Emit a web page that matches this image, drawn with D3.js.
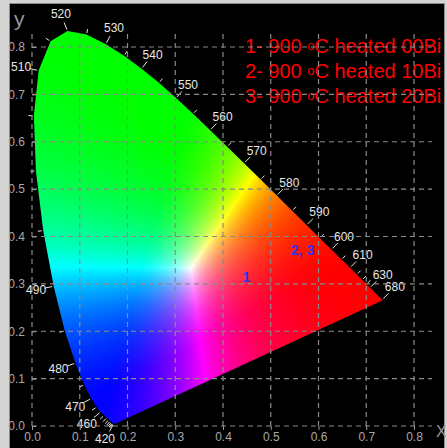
<!DOCTYPE html>
<html>
<head>
<meta charset="utf-8">
<script src="https://cdn.jsdelivr.net/npm/d3@7"></script>
<style>
  html, body { margin: 0; padding: 0; background: #d4d4d4; }
  svg { display: block; }
  text { font-family: "Liberation Sans", Arial, sans-serif; }
</style>
</head>
<body>
<script>
// CIE 1931 2° spectral locus, 380–700 nm in 5 nm steps
const wavelengths = d3.range(380, 705, 5);
const locusX = [
  0.1741, 0.1740, 0.1738, 0.1736, 0.1733, 0.1730, 0.1726, 0.1721, 0.1714, 0.1703,
  0.1689, 0.1669, 0.1644, 0.1611, 0.1566, 0.1510, 0.1440, 0.1355, 0.1241, 0.1096,
  0.0913, 0.0687, 0.0454, 0.0235, 0.0082, 0.0039, 0.0139, 0.0389, 0.0743, 0.1142,
  0.1547, 0.1929, 0.2296, 0.2658, 0.3016, 0.3373, 0.3731, 0.4087, 0.4441, 0.4788,
  0.5125, 0.5448, 0.5752, 0.6029, 0.6270, 0.6482, 0.6658, 0.6801, 0.6915, 0.7006,
  0.7079, 0.7140, 0.7190, 0.7230, 0.7260, 0.7283, 0.7300, 0.7311, 0.7320, 0.7327,
  0.7334, 0.7340, 0.7344, 0.7346, 0.7347
];
const locusY = [
  0.0050, 0.0050, 0.0049, 0.0049, 0.0048, 0.0048, 0.0048, 0.0048, 0.0051, 0.0058,
  0.0069, 0.0086, 0.0109, 0.0138, 0.0177, 0.0227, 0.0297, 0.0399, 0.0578, 0.0868,
  0.1327, 0.2007, 0.2950, 0.4127, 0.5384, 0.6548, 0.7502, 0.8120, 0.8338, 0.8262,
  0.8059, 0.7816, 0.7543, 0.7243, 0.6923, 0.6589, 0.6245, 0.5896, 0.5547, 0.5202,
  0.4866, 0.4544, 0.4242, 0.3965, 0.3725, 0.3514, 0.3340, 0.3197, 0.3083, 0.2993,
  0.2920, 0.2859, 0.2809, 0.2770, 0.2740, 0.2717, 0.2700, 0.2689, 0.2680, 0.2673,
  0.2666, 0.2660, 0.2656, 0.2654, 0.2653
];

// wavelengths that carry a number along the locus
const labelledWavelengths = [420, 460, 470, 480, 490, 510, 520, 530, 540, 550,
                             560, 570, 580, 590, 600, 610, 630, 680];
// small unlabelled marks every 5 nm
const minorWavelengths = d3.range(425, 630, 5);

const xTicks = [0.0, 0.1, 0.2, 0.3, 0.4, 0.5, 0.6, 0.7, 0.8];
const yTicks = [0.0, 0.1, 0.2, 0.3, 0.4, 0.5, 0.6, 0.7, 0.8];

// measured chromaticity of the samples
const sampleLabels = ["1", "2, 3"];
const sampleX = [0.449, 0.567];
const sampleY = [0.3145, 0.3705];

// legend
const legendNumbers = ["1", "2", "3"];
const legendTemps = ["900", "900", "900"];
const legendSamples = ["00Bi", "10Bi", "20Bi"];

const W = 447, H = 448;
const x = d3.scaleLinear().domain([0, 0.8]).range([32, 414]);
const y = d3.scaleLinear().domain([0, 0.8]).range([426, 47]);

const svg = d3.select("body").append("svg").attr("width", W).attr("height", H);

// frame
svg.append("rect").attr("width", W).attr("height", H).attr("fill", "#d4d4d4");
svg.append("rect").attr("x", 10).attr("y", 4).attr("width", 434).attr("height", H - 4)
  .attr("fill", "#000");
svg.append("path").attr("d", `M9.5,${H}V3.5H444.5V${H}`).attr("fill", "none")
  .attr("stroke", "#8c8c8c");

const locus = wavelengths.map((w, i) => ({ w, cx: locusX[i], cy: locusY[i] }));
const byWave = new Map(locus.map(d => [d.w, d]));

// closed locus outline (spectral curve + purple line)
const locusLine = d3.line().x(d => x(d.cx)).y(d => y(d.cy)).curve(d3.curveLinearClosed);
svg.append("clipPath").attr("id", "locus-clip")
  .append("path").attr("d", locusLine(locus));

// colour from chromaticity: linear sRGB balanced to the equal-energy white,
// normalised to the brightest channel and given extra saturation
const balance = [0.4016, 0.3161, 0.3029];
const saturation = 1.3;
function chromaColour(cx, cy) {
  const X = cx, Y = cy, Z = 1 - cx - cy;
  let r = (3.2406 * X - 1.5372 * Y - 0.4986 * Z) / balance[0];
  let g = (-0.9689 * X + 1.8758 * Y + 0.0415 * Z) / balance[1];
  let b = (0.0557 * X - 0.2040 * Y + 1.0570 * Z) / balance[2];
  r = Math.max(0, r); g = Math.max(0, g); b = Math.max(0, b);
  const m = Math.max(r, g, b);
  if (m <= 0) return [0, 0, 0];
  return [r, g, b].map(c => Math.pow(c / m, saturation) * 255);
}

const canvas = document.createElement("canvas");
canvas.width = W; canvas.height = H;
const ctx = canvas.getContext("2d");
const img = ctx.createImageData(W, H);
for (let py = 0; py < H; py++) {
  for (let px = 0; px < W; px++) {
    const c = chromaColour(x.invert(px + 0.5), y.invert(py + 0.5));
    const k = (py * W + px) * 4;
    img.data[k] = c[0]; img.data[k + 1] = c[1]; img.data[k + 2] = c[2]; img.data[k + 3] = 255;
  }
}
ctx.putImageData(img, 0, 0);
svg.append("image").attr("x", 0).attr("y", 0).attr("width", W).attr("height", H)
  .attr("href", canvas.toDataURL()).attr("clip-path", "url(#locus-clip)");

// outward normal of the locus at a wavelength, in pixel space
function normalAt(w) {
  const a = byWave.get(Math.max(380, w - 10)), b = byWave.get(Math.min(700, w + 10));
  const tx = x(b.cx) - x(a.cx), ty = y(b.cy) - y(a.cy);
  const len = Math.hypot(tx, ty);
  return [ty / len, -tx / len];
}

const marks = svg.append("g").attr("stroke", "#e6e6e6").attr("stroke-width", 1);
minorWavelengths.filter(w => !labelledWavelengths.includes(w)).forEach(w => {
  const d = byWave.get(w), [nx, ny] = normalAt(w);
  const px = x(d.cx), py = y(d.cy);
  marks.append("line")
    .attr("x1", px + nx * 1.5).attr("y1", py + ny * 1.5)
    .attr("x2", px + nx * 5.5).attr("y2", py + ny * 5.5);
});
labelledWavelengths.forEach(w => {
  const d = byWave.get(w), [nx, ny] = normalAt(w);
  const px = x(d.cx), py = y(d.cy);
  marks.append("line")
    .attr("x1", px + nx * 1.5).attr("y1", py + ny * 1.5)
    .attr("x2", px + nx * 9).attr("y2", py + ny * 9);
  svg.append("text")
    .attr("x", px + nx * 18).attr("y", py + ny * 18).attr("dy", "0.35em")
    .attr("text-anchor", "middle").attr("font-size", 12).attr("fill", "#e8e8e8")
    .text(w);
});

// legend (drawn under the grid)
const legend = svg.append("g").attr("fill", "#ff0000").attr("font-size", 20);
legendNumbers.forEach((n, i) => {
  const t = legend.append("text").attr("x", 245).attr("y", 53 + i * 25);
  t.append("tspan").text(`${n}- ${legendTemps[i]} `);
  t.append("tspan").attr("font-size", 13).attr("dy", -3).text("o");
  t.append("tspan").attr("dy", 3).text(`C heated ${legendSamples[i]}`);
});

// dashed grid
const grid = svg.append("g").attr("stroke", "#8a8a8a").attr("stroke-width", 1.2)
  .attr("stroke-dasharray", "5,4").attr("fill", "none");
xTicks.forEach(v => {
  grid.append("line").attr("x1", x(v)).attr("x2", x(v)).attr("y1", y(0)).attr("y2", 30);
});
yTicks.forEach(v => {
  grid.append("line").attr("y1", y(v)).attr("y2", y(v)).attr("x1", x(0)).attr("x2", 432);
});

// axes
const fmt = d3.format(".1f");
const xAxis = svg.append("g").attr("transform", `translate(0,${y(0)})`)
  .call(d3.axisBottom(x).tickValues(xTicks).tickFormat(fmt).tickSize(4).tickPadding(2));
const yAxis = svg.append("g").attr("transform", `translate(${x(0)},0)`)
  .call(d3.axisLeft(y).tickValues(yTicks).tickFormat(fmt).tickSize(-4).tickPadding(7));
[xAxis, yAxis].forEach(a => {
  a.select(".domain").remove();
  a.selectAll(".tick line").attr("stroke", "#9a9a9a");
  a.selectAll(".tick text").attr("fill", "#a8a8a8").attr("font-size", 12)
    .attr("font-family", "'Liberation Sans', Arial, sans-serif");
});

svg.append("text").attr("x", 14).attr("y", 26).attr("font-size", 21).attr("fill", "#9a9a9a")
  .text("y");
svg.append("text").attr("x", 436).attr("y", 437).attr("font-size", 16).attr("fill", "#9a9a9a")
  .text("X");

// sample points
svg.append("g").selectAll("text").data(sampleLabels).join("text")
  .attr("x", (d, i) => x(sampleX[i])).attr("y", (d, i) => y(sampleY[i]))
  .attr("dy", "0.35em").attr("text-anchor", "middle")
  .attr("font-size", 14).attr("font-weight", "bold").attr("fill", "#3232f0")
  .text(d => d);
</script>
</body>
</html>
